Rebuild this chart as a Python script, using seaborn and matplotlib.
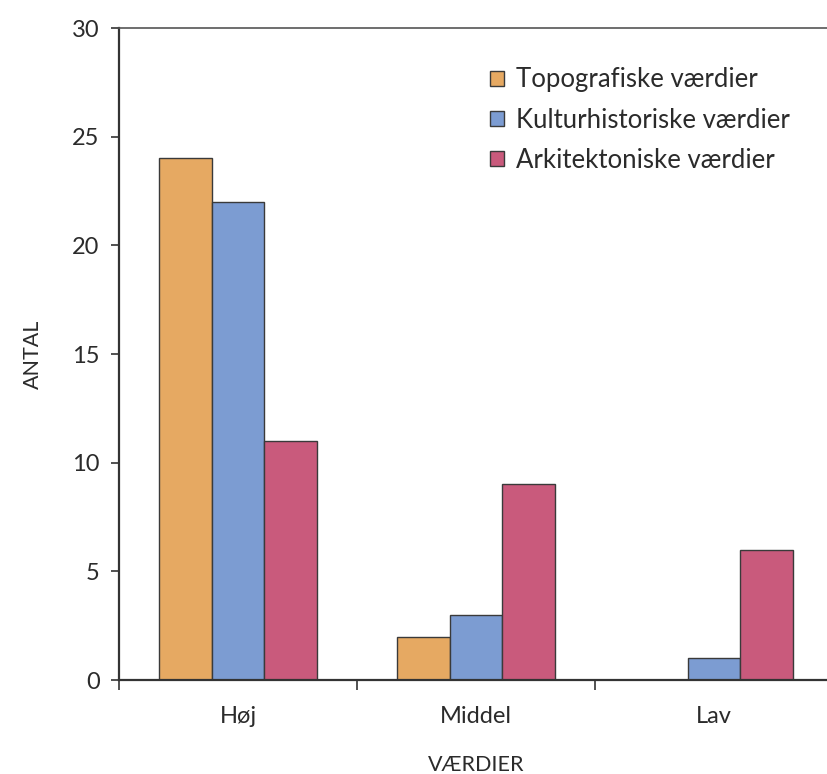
import matplotlib
matplotlib.use("Agg")
import matplotlib.pyplot as plt
import seaborn as sns
import pandas as pd

categories = ["Høj", "Middel", "Lav"]
series_names = ["Topografiske værdier", "Kulturhistoriske værdier", "Arkitektoniske værdier"]
topografiske = [24, 2, 0]
kulturhistoriske = [22, 3, 1]
arkitektoniske = [11, 9, 6]
colors = ["#E6A962", "#7C9CD2", "#C95A7C"]

rows = []
for name, vals in zip(series_names, [topografiske, kulturhistoriske, arkitektoniske]):
    for cat, v in zip(categories, vals):
        rows.append({"VÆRDIER": cat, "serie": name, "ANTAL": v})
df = pd.DataFrame(rows)

sns.set_style("white")
plt.rcParams["font.family"] = ["Lato", "DejaVu Sans"]
text_color = "#2b2b2b"

fig = plt.figure(figsize=(8.27, 7.74), dpi=100)
ax = fig.add_axes([0.1439, 0.1214, 0.8633, 0.8424])

sns.barplot(data=df, x="VÆRDIER", y="ANTAL", hue="serie", hue_order=series_names,
            order=categories, palette=colors, width=0.667, saturation=1,
            edgecolor="#3a3a3a", linewidth=1.0, ax=ax)

ax.set_xlim(-0.5, 2.5)
ax.set_ylim(0, 30)
ax.set_yticks([0, 5, 10, 15, 20, 25, 30])
ax.set_xticks([-0.5, 0.5, 1.5], minor=False)
ax.set_xticks([0, 1, 2], minor=True)
ax.set_xticklabels([])
ax.set_xticklabels(categories, minor=True)

for s in ["left", "bottom"]:
    ax.spines[s].set_color("#333333")
    ax.spines[s].set_linewidth(1.6)
ax.spines["top"].set_color("#555555")
ax.spines["top"].set_linewidth(1.2)
ax.spines["right"].set_visible(False)

ax.tick_params(axis="y", which="major", direction="out", length=6, width=1.2,
               colors="#333333", labelcolor=text_color, labelsize=17, left=True, pad=8)
ax.tick_params(axis="x", which="major", direction="out", length=7, width=1.2,
               colors="#333333", bottom=True)
ax.tick_params(axis="x", which="minor", length=0, labelsize=17, labelcolor=text_color, pad=19)

ax.set_xlabel("VÆRDIER", fontsize=15.5, color=text_color, labelpad=20)
ax.set_ylabel("ANTAL", fontsize=15.5, color=text_color, labelpad=21)

leg = ax.legend(loc="upper left", bbox_to_anchor=(0.52, 0.94), frameon=False,
                fontsize=18.5, handlelength=0.52, handleheight=0.52, handletextpad=0.5,
                labelspacing=0.6, borderpad=0, borderaxespad=0, labelcolor=text_color)

fig.savefig("out.png", dpi=100)
